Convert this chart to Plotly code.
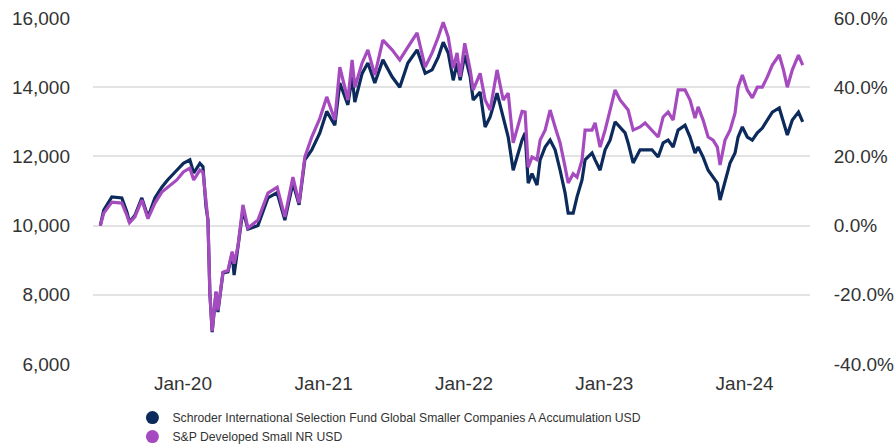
import plotly.graph_objects as go

dates = [
    "2019-05-31", "2019-06-09", "2019-06-30", "2019-07-26", "2019-08-08", "2019-08-15", "2019-08-29",
    "2019-09-16", "2019-10-02", "2019-10-20", "2019-11-07", "2019-11-22", "2019-12-16", "2020-01-02",
    "2020-01-19", "2020-01-29", "2020-02-14", "2020-02-22", "2020-03-01", "2020-03-06", "2020-03-11",
    "2020-03-17", "2020-03-27", "2020-04-01", "2020-04-14", "2020-04-27", "2020-05-08", "2020-05-13",
    "2020-05-23", "2020-06-05", "2020-06-18", "2020-07-14", "2020-08-09", "2020-09-02", "2020-09-22",
    "2020-10-13", "2020-10-29", "2020-11-13", "2020-12-01", "2020-12-22", "2021-01-09", "2021-01-30",
    "2021-02-12", "2021-03-05", "2021-03-16", "2021-03-23", "2021-04-11", "2021-04-26", "2021-05-14",
    "2021-06-04", "2021-06-28", "2021-07-18", "2021-08-08", "2021-09-01", "2021-09-22", "2021-10-10",
    "2021-10-26", "2021-11-08", "2021-11-21", "2021-12-04", "2021-12-14", "2021-12-22", "2022-01-03",
    "2022-01-17", "2022-01-25", "2022-02-12", "2022-02-25", "2022-03-10", "2022-03-28", "2022-04-13",
    "2022-04-26", "2022-05-09", "2022-06-01", "2022-06-09", "2022-06-17", "2022-06-27", "2022-07-10",
    "2022-07-18", "2022-07-31", "2022-08-13", "2022-08-26", "2022-09-08", "2022-09-21", "2022-09-29",
    "2022-10-12", "2022-10-22", "2022-11-04", "2022-11-12", "2022-11-30", "2022-12-08", "2022-12-21",
    "2023-01-03", "2023-01-16", "2023-01-29", "2023-02-11", "2023-02-24", "2023-03-04", "2023-03-17",
    "2023-04-04", "2023-04-17", "2023-05-05", "2023-05-21", "2023-06-03", "2023-06-16", "2023-06-29",
    "2023-07-12", "2023-07-30", "2023-08-12", "2023-08-25", "2023-09-02", "2023-09-15", "2023-09-28",
    "2023-10-11", "2023-10-22", "2023-10-29", "2023-11-11", "2023-11-24", "2023-12-07", "2023-12-15",
    "2023-12-26", "2024-01-08", "2024-01-21", "2024-02-03", "2024-02-16", "2024-02-29", "2024-03-13",
    "2024-03-31", "2024-04-11", "2024-04-21", "2024-05-04", "2024-05-20", "2024-05-31",
]

fund = [
    10000, 10450, 10830, 10800, 10400, 10100, 10300,
    10800, 10250, 10800, 11110, 11320, 11600, 11800,
    11900, 11520, 11800, 11700, 10540, 10160, 8050,
    6920, 8080, 7500, 8630, 8660, 9200, 8570,
    9380, 10450, 9900, 10000, 10800, 10950, 10160,
    11230, 10600, 11900, 12190, 12680, 13300, 12900,
    14120, 13490, 14300, 13570, 14400, 14700, 14120,
    14790, 14300, 14000, 14700, 15080, 14400, 14500,
    14870, 15300, 14990, 14200, 14700, 14200, 14930,
    14300, 13630, 13860, 12850, 13140, 13830, 13140,
    12560, 11600, 12470, 12680, 11230, 11500, 11170,
    11900, 12270, 12470, 12190, 11600, 10940, 10360,
    10360, 10830, 11320, 11900, 12100, 11900, 11600,
    12190, 12470, 13000, 12850, 12680, 12390, 11810,
    12190, 12190, 12190, 11980, 12390, 12470, 12270,
    12760, 12900, 12560, 12100, 12270, 11980, 11600,
    11400, 11230, 10740, 11320, 11810, 12100, 12560,
    12850, 12560, 12470, 12680, 12820, 13050, 13280,
    13400, 12970, 12620, 13050, 13280, 13000,
]

index = [
    10000, 10360, 10680, 10650, 10300, 10080, 10250,
    10740, 10200, 10650, 10970, 11110, 11320, 11550,
    11660, 11320, 11600, 11550, 10540, 10160, 8050,
    6950, 8100, 7550, 8650, 8700, 9250, 8900,
    9400, 10600, 9930, 10160, 10940, 11110, 10250,
    11400, 10650, 11980, 12560, 13100, 13720, 13050,
    14580, 13630, 14790, 14000, 14700, 15080, 14350,
    15360, 15080, 14790, 15160, 15570, 14580, 14990,
    15450, 15880, 15450, 14550, 14990, 14300, 15270,
    14500, 13920, 14400, 13630, 13340, 14500, 13630,
    13830, 12390, 13300, 13280, 11690, 11980, 11900,
    12470, 12760, 13340, 12850, 12390, 11690, 11230,
    11500, 11400, 11900, 12760, 12760, 12970, 12270,
    12760, 13340, 13920, 13630, 13430, 13340, 12760,
    12850, 12970, 12760, 12560, 13140, 13280, 13050,
    13920, 13920, 13630, 13110, 13430, 13050, 12560,
    12470, 12270, 11750, 12470, 12760, 13250, 14000,
    14350, 13920, 13690, 14000, 14000, 14300, 14640,
    14930, 14500, 14000, 14500, 14930, 14640,
]

series_names = [
    "Schroder International Selection Fund Global Smaller Companies A Accumulation USD",
    "S&P Developed Small NR USD",
]
colors = ["#0c2a5b", "#a64bbf"]

left_ticks = [6000, 8000, 10000, 12000, 14000, 16000]
left_ticktext = ["6,000", "8,000", "10,000", "12,000", "14,000", "16,000"]
right_ticks = [-40, -20, 0, 20, 40, 60]
right_ticktext = ["-40.0%", "-20.0%", "0.0%", "20.0%", "40.0%", "60.0%"]
x_ticks = ["2020-01-01", "2021-01-01", "2022-01-01", "2023-01-01", "2024-01-01"]
x_ticktext = ["Jan-20", "Jan-21", "Jan-22", "Jan-23", "Jan-24"]

fig = go.Figure()
for name, vals, col in zip(series_names, [fund, index], colors):
    fig.add_trace(go.Scatter(x=dates, y=vals, mode="lines", name=name,
                             line=dict(color=col, width=3.2), showlegend=False,
                             hoverinfo="skip"))
# invisible trace so the right-hand percentage axis is drawn
fig.add_trace(go.Scatter(x=[None], y=[None], yaxis="y2", mode="lines",
                         showlegend=False, hoverinfo="skip"))
for name, col in zip(series_names, colors):
    fig.add_trace(go.Scatter(x=[None], y=[None], mode="markers", name=name,
                             marker=dict(color=col, size=13, symbol="circle")))

font_family = "Liberation Sans, Arial, sans-serif"
fig.update_layout(
    width=895, height=444,
    margin=dict(l=93, r=85, t=18, b=80, autoexpand=False),
    paper_bgcolor="white", plot_bgcolor="white",
    font=dict(family=font_family, color="#333333", size=19),
    showlegend=True,
    hovermode=False,
    legend=dict(orientation="v", x=0.055, y=-0.113, xanchor="left", yanchor="top",
                font=dict(size=12.2, color="#333333"), itemsizing="trace",
                tracegroupgap=0, bgcolor="rgba(0,0,0,0)"),
    xaxis=dict(range=["2019-05-12", "2024-06-19"], tickvals=x_ticks, ticktext=x_ticktext,
               showgrid=False, showline=False, zeroline=False, ticks="",
               ticklabelstandoff=6, tickfont=dict(size=19, color="#333333")),
    yaxis=dict(range=[6000, 16000], tickvals=left_ticks, ticktext=left_ticktext,
               showgrid=True, gridcolor="#e3e3e3", gridwidth=1.5, zeroline=False,
               showline=False, ticks="", ticklabelstandoff=22,
               tickfont=dict(size=19, color="#333333")),
    yaxis2=dict(range=[-40, 60], tickvals=right_ticks, ticktext=right_ticktext,
                overlaying="y", side="right", showgrid=False, zeroline=False,
                showline=False, ticks="outside", ticklen=19, tickcolor="rgba(0,0,0,0)",
                tickfont=dict(size=19, color="#333333")),
)

fig.write_html("out.html", config={"displayModeBar": False},
               post_script="document.body.style.margin='0';")
